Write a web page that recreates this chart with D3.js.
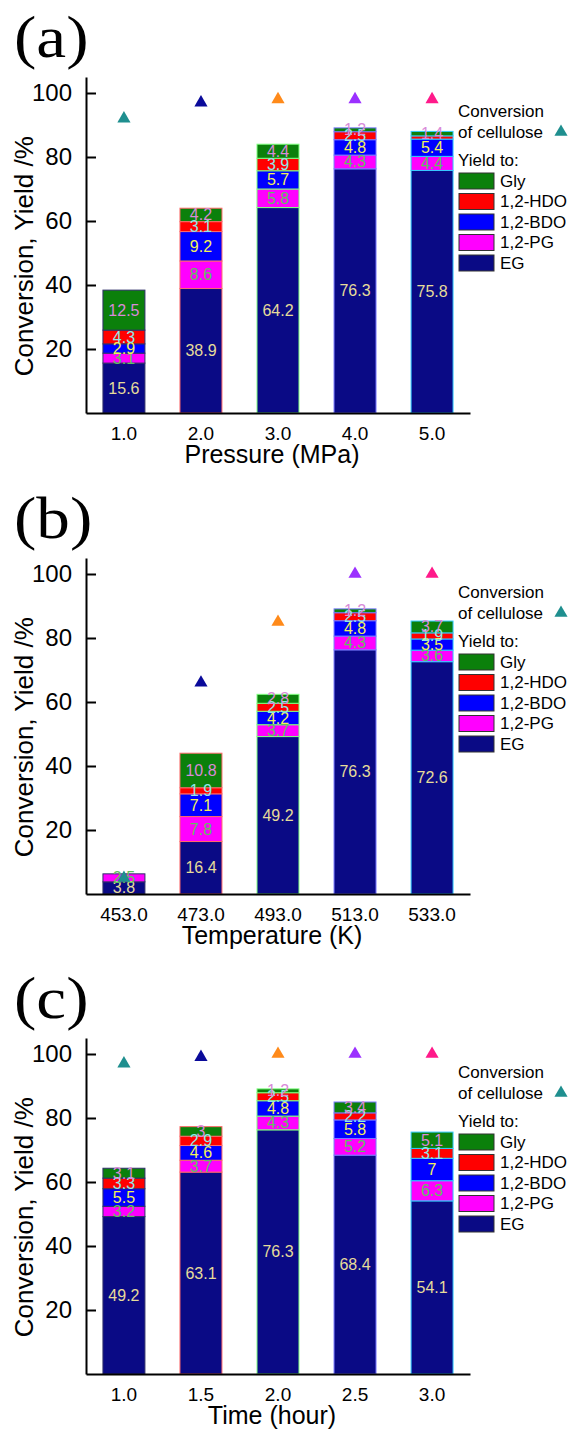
<!DOCTYPE html>
<html>
<head>
<meta charset="utf-8">
<script src="https://cdn.jsdelivr.net/npm/d3@7"></script>
<style>
  body { margin: 0; background: #fff; }
  svg { display: block; font-family: "Liberation Sans", Arial, sans-serif; }
</style>
</head>
<body>
<div id="chart"></div>
<script>
// series, bottom to top of each stack
const seriesNames = ["EG", "1,2-PG", "1,2-BDO", "1,2-HDO", "Gly"];

// (a) pressure
const pressureCats = ["1.0", "2.0", "3.0", "4.0", "5.0"];
const pressureEG = [15.6, 38.9, 64.2, 76.3, 75.8];
const pressurePG = [3.1, 8.6, 5.8, 4.3, 4.4];
const pressureBDO = [2.9, 9.2, 5.7, 4.8, 5.4];
const pressureHDO = [4.3, 3.1, 3.9, 2.5, 1.0];
const pressureGly = [12.5, 4.2, 4.4, 1.2, 1.4];
const pressureConv = [92, 97, 98, 98, 98];

// (b) temperature
const tempCats = ["453.0", "473.0", "493.0", "513.0", "533.0"];
const tempEG = [3.8, 16.4, 49.2, 76.3, 72.6];
const tempPG = [2.5, 7.8, 3.7, 4.3, 3.6];
const tempBDO = [0, 7.1, 4.2, 4.8, 3.5];
const tempHDO = [0, 1.9, 2.5, 2.5, 1.9];
const tempGly = [0, 10.8, 2.8, 1.2, 3.7];
const tempConv = [5, 66, 85, 100, 100];

// (c) time
const timeCats = ["1.0", "1.5", "2.0", "2.5", "3.0"];
const timeEG = [49.2, 63.1, 76.3, 68.4, 54.1];
const timePG = [3.2, 3.7, 4.3, 5.2, 6.3];
const timeBDO = [5.5, 4.6, 4.8, 5.8, 7];
const timeHDO = [3.3, 2.9, 2.5, 2.2, 3.1];
const timeGly = [3.1, 3, 1.2, 3.4, 5.1];
const timeConv = [97, 99, 100, 100, 100];

const yTicks = [20, 40, 60, 80, 100];

// colours
const fillColors = ["#0a0a85", "#ff00ff", "#0000ff", "#ff0000", "#0b800b"];
const labelColors = ["#e6dc9a", "#5fbf5f", "#f2f05a", "#8fe8e8", "#d98ad9"];
const outlineColors = ["#30306a", "#ff6a6a", "#80ff80", "#7a7aff", "#33ccff"];
const convColors = ["#1f8f8f", "#0a0a9a", "#ff8a1a", "#9b30ff", "#ff1a8a"];

const panels = [
  { tag: "(a)", title: "Pressure (MPa)", cats: pressureCats, conv: pressureConv,
    series: [pressureEG, pressurePG, pressureBDO, pressureHDO, pressureGly], hide: [[4, 3]] },
  { tag: "(b)", title: "Temperature (K)", cats: tempCats, conv: tempConv,
    series: [tempEG, tempPG, tempBDO, tempHDO, tempGly], hide: [] },
  { tag: "(c)", title: "Time (hour)", cats: timeCats, conv: timeConv,
    series: [timeEG, timePG, timeBDO, timeHDO, timeGly], hide: [] }
];
const panelOffsets = [0, 481, 961];

const width = 569, height = 1438;
const svg = d3.select("#chart").append("svg")
  .attr("width", width)
  .attr("height", height);

const tri = d3.symbol().type(d3.symbolTriangle).size(75);

panels.forEach((p, pi) => {
  const g = svg.append("g").attr("transform", `translate(0,${panelOffsets[pi]})`);

  const x = d3.scaleBand().domain(p.cats).range([86, 470])
    .paddingInner(0.455).paddingOuter(0.22);
  const y = d3.scaleLinear().domain([0, 105]).range([413, 77]);

  // stack rows
  const rows = p.cats.map((c, i) => {
    const r = { cat: c };
    seriesNames.forEach((s, k) => r[s] = p.series[k][i]);
    return r;
  });
  const stacked = d3.stack().keys(seriesNames)(rows);

  // panel tag, a little wider than the plain serif face
  g.append("text")
    .attr("transform", "translate(14,57) scale(1.12,1)")
    .style("font-family", "'Liberation Serif', 'Times New Roman', serif")
    .style("font-size", "60px")
    .text(p.tag);

  // bars
  stacked.forEach((layer, k) => {
    g.append("g").selectAll("rect")
      .data(layer)
      .join("rect")
      .attr("x", d => x(d.data.cat))
      .attr("y", d => y(d[1]))
      .attr("width", x.bandwidth())
      .attr("height", d => y(d[0]) - y(d[1]))
      .attr("fill", fillColors[k])
      .attr("stroke", (d, i) => outlineColors[i])
      .attr("stroke-width", 1);
  });

  // segment labels
  stacked.forEach((layer, k) => {
    g.append("g").selectAll("text")
      .data(layer.filter((d, i) => (d[1] - d[0]) > 0 && !p.hide.some(h => h[0] === i && h[1] === k)))
      .join("text")
      .attr("x", d => x(d.data.cat) + x.bandwidth() / 2)
      .attr("y", d => y((d[0] + d[1]) / 2))
      .attr("text-anchor", "middle")
      .attr("dominant-baseline", "central")
      .attr("fill", labelColors[k])
      .style("font-size", "16px")
      .text(d => String(+(d[1] - d[0]).toFixed(1)));
  });

  // conversion markers
  g.append("g").selectAll("path")
    .data(p.conv)
    .join("path")
    .attr("d", tri)
    .attr("transform", (d, i) => `translate(${x(p.cats[i]) + x.bandwidth() / 2},${y(d)})`)
    .attr("fill", (d, i) => convColors[i]);

  // axes
  const yAxis = g.append("g")
    .attr("transform", "translate(86,0)")
    .call(d3.axisLeft(y).tickValues(yTicks).tickSizeInner(-10).tickSizeOuter(0).tickPadding(14));
  yAxis.select(".domain").attr("stroke-width", 2);
  yAxis.selectAll(".tick line").attr("stroke-width", 2);
  yAxis.selectAll(".tick text").style("font-size", "24px").style("font-family", "'Liberation Sans', Arial, sans-serif");

  const xAxis = g.append("g")
    .attr("transform", "translate(0,413)")
    .call(d3.axisBottom(x).tickSize(0).tickPadding(14));
  xAxis.select(".domain").attr("stroke-width", 2);
  xAxis.selectAll(".tick text").style("font-size", "19px").style("font-family", "'Liberation Sans', Arial, sans-serif");

  // axis titles
  g.append("text")
    .attr("x", 272).attr("y", 463)
    .attr("text-anchor", "middle")
    .style("font-size", "25px")
    .text(p.title);

  g.append("text")
    .attr("transform", `translate(33,${y(49)}) rotate(-90)`)
    .attr("text-anchor", "middle")
    .style("font-size", "26px")
    .text("Conversion, Yield /%");

  // legend
  const lg = g.append("g");
  lg.append("text").attr("x", 458).attr("y", 117).style("font-size", "17px").text("Conversion");
  lg.append("text").attr("x", 458).attr("y", 138).style("font-size", "17px").text("of cellulose");
  lg.append("path").attr("d", tri).attr("transform", "translate(561,132)").attr("fill", convColors[0]);
  lg.append("text").attr("x", 458).attr("y", 166).style("font-size", "17px").text("Yield to:");

  const legendOrder = seriesNames.map((s, k) => k).reverse();
  legendOrder.forEach((k, j) => {
    const yy = 173 + j * 20.5;
    lg.append("rect")
      .attr("x", 459).attr("y", yy)
      .attr("width", 35).attr("height", 16)
      .attr("fill", fillColors[k])
      .attr("stroke", "#333").attr("stroke-width", 1);
    lg.append("text")
      .attr("x", 500).attr("y", yy + 8)
      .attr("dominant-baseline", "central")
      .style("font-size", "17px")
      .text(seriesNames[k]);
  });
});
</script>
</body>
</html>
